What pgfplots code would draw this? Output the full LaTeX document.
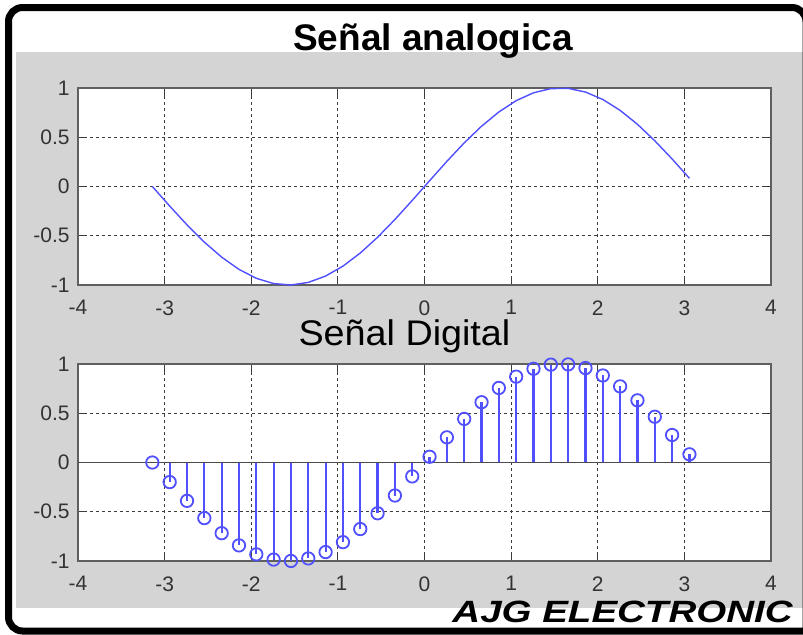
\documentclass[border=0pt]{standalone}
\usepackage{fontspec}
\setmainfont{Liberation Sans}
\usepackage{graphicx}
\usepackage{pgfplots}
\usepackage{pgfplotstable}
\pgfplotsset{compat=1.18}
\definecolor{bg}{RGB}{212,212,212}
\definecolor{mblue}{RGB}{80,80,255}
\definecolor{gridc}{RGB}{60,60,60}
\definecolor{boxc}{RGB}{95,95,95}

\pgfplotstableread{
x y
-3.1416 0
-2.9416 -0.1987
-2.7416 -0.3894
-2.5416 -0.5646
-2.3416 -0.7174
-2.1416 -0.8415
-1.9416 -0.9320
-1.7416 -0.9854
-1.5416 -0.9996
-1.3416 -0.9738
-1.1416 -0.9093
-0.9416 -0.8085
-0.7416 -0.6755
-0.5416 -0.5155
-0.3416 -0.3350
-0.1416 -0.1411
0.0584 0.0584
0.2584 0.2555
0.4584 0.4425
0.6584 0.6119
0.8584 0.7568
1.0584 0.8716
1.2584 0.9516
1.4584 0.9937
1.6584 0.9962
1.8584 0.9589
2.0584 0.8835
2.2584 0.7728
2.4584 0.6313
2.6584 0.4646
2.8584 0.2794
3.0584 0.0831
}\sig

\pgfplotsset{mystyle/.style={
  scale only axis, width=346.5pt, height=98.5pt,
  xmin=-4, xmax=4, ymin=-1, ymax=1,
  xtick={-4,-3,-2,-1,0,1,2,3,4}, ytick={-1,-0.5,0,0.5,1},
  tick align=inside, major tick length=4pt,
  tick style={draw=gridc, line width=0.5pt},
  axis line style={draw=boxc, line width=0.9pt},
  grid=major,
  major grid style={draw=gridc, line width=0.55pt, dash pattern=on 1.5pt off 1.5pt},
  axis background/.style={fill=white},
  /pgf/number format/assume math mode=true,
  ticklabel style={font=\fontsize{10.5}{12}\selectfont, text=black!80, inner sep=0pt},
  xticklabel style={anchor=north, yshift=-7.5pt},
  yticklabel style={anchor=east, xshift=-4pt},
  clip=false,
}}

\begin{document}
\begin{tikzpicture}
\useasboundingbox (0,0) rectangle (401.5pt,317pt);
\fill[white] (0,0) rectangle (401.5pt,317pt);
\fill[bg] (8pt,13pt) rectangle (401.5pt,291pt);
\begin{scope}
\clip (0,0) rectangle (401.5pt,317pt);
\draw[line width=3.5pt, rounded corners=7pt] (403pt,1.5pt) -- (4.25pt,1.5pt) -- (4.25pt,313.25pt) -- (403pt,313.25pt) -- (403pt,1.5pt);
\end{scope}

\begin{axis}[mystyle, at={(39pt,174.5pt)}, anchor=south west]
\addplot[mblue, line width=0.7pt] table[x=x,y=y] {\sig};
\end{axis}

\begin{axis}[mystyle, at={(39pt,36.5pt)}, anchor=south west]
\addplot[draw=mblue, line width=1.1pt, ycomb] table[x=x,y=y] {\sig};
\addplot[draw=mblue, only marks, mark=o, mark size=3.1pt, mark options={draw=mblue, fill=none, solid, line width=0.9pt}] table[x=x,y=y] {\sig};
\addplot[draw=black!70, line width=0.9pt] coordinates {(-4,0) (4,0)};
\end{axis}

\node[anchor=base, inner sep=0pt] at (216.5pt,292pt) {\fontsize{18.5}{21}\selectfont\bfseries Señal analogica};
\node[anchor=base, inner sep=0pt] at (202.25pt,144.5pt) {\scalebox{1.06}[1]{\fontsize{17.8}{20}\selectfont Señal Digital}};
\node[anchor=base east, inner sep=0pt] at (396.5pt,6pt) {\scalebox{1.25}[1]{\fontsize{15.4}{18}\selectfont\bfseries\itshape AJG ELECTRONIC}};
\end{tikzpicture}
\end{document}
